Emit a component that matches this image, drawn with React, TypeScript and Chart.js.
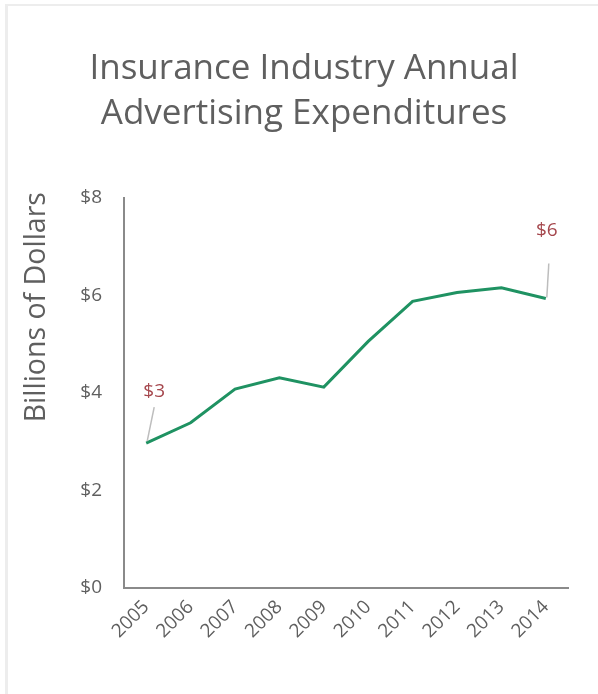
import React, { useEffect, useRef } from "react";
import { Chart, registerables } from "chart.js";

Chart.register(...registerables);

const years = ["2005", "2006", "2007", "2008", "2009", "2010", "2011", "2012", "2013", "2014"];
const spending = [2.97, 3.39, 4.08, 4.31, 4.12, 5.06, 5.88, 6.06, 6.16, 5.94];
const yTicks = [0, 2, 4, 6, 8];
const calloutIndex = [0, 9];
const calloutText = ["$3", "$6"];
const titleLines = ["Insurance Industry Annual", "Advertising Expenditures"];
const yAxisTitle = "Billions of Dollars";

const FONT = "'Open Sans', sans-serif";
const GREY = "#5f5f5f";

const calloutPlugin = {
  id: "callouts",
  afterDatasetsDraw(chart: any) {
    const meta = chart.getDatasetMeta(0);
    const ctx = chart.ctx;
    const geo = [
      { l1: [1, -2], l2: [8, -36], t: [8, -52] },
      { l1: [1, -1], l2: [3, -35], t: [1, -68] },
    ];
    calloutIndex.forEach((idx, k) => {
      const pt = meta.data[idx];
      if (!pt) return;
      const g = geo[k];
      ctx.save();
      ctx.strokeStyle = "#bdbdbd";
      ctx.lineWidth = 1.5;
      ctx.beginPath();
      ctx.moveTo(pt.x + g.l1[0], pt.y + g.l1[1]);
      ctx.lineTo(pt.x + g.l2[0], pt.y + g.l2[1]);
      ctx.stroke();
      ctx.fillStyle = "#a5474d";
      ctx.font = `19px ${FONT}`;
      ctx.textAlign = "center";
      ctx.textBaseline = "middle";
      ctx.fillText(calloutText[k], pt.x + g.t[0], pt.y + g.t[1]);
      ctx.restore();
    });
  },
};

const yTitlePlugin = {
  id: "yTitle",
  afterDraw(chart: any) {
    const ctx = chart.ctx;
    const area = chart.chartArea;
    ctx.save();
    ctx.translate(37, area.top + (area.bottom - area.top) * 0.28);
    ctx.rotate(-Math.PI / 2);
    ctx.fillStyle = GREY;
    ctx.font = `28.5px ${FONT}`;
    ctx.textAlign = "center";
    ctx.textBaseline = "middle";
    ctx.fillText(yAxisTitle, 0, 0);
    ctx.restore();
  },
};

export default function App() {
  const ref = useRef<HTMLCanvasElement>(null);
  useEffect(() => {
    document.body.style.margin = "0";
    const chart = new Chart(ref.current!, {
      type: "line",
      data: {
        labels: years,
        datasets: [
          {
            data: spending,
            borderColor: "#1f9262",
            borderWidth: 3,
            pointRadius: 0,
            tension: 0,
            fill: false,
          },
        ],
      },
      plugins: [calloutPlugin, yTitlePlugin],
      options: {
        animation: false,
        responsive: false,
        layout: { padding: { top: 47, left: 40, right: 30, bottom: 0 } },
        plugins: {
          legend: { display: false },
          tooltip: { enabled: false },
          title: {
            display: true,
            text: titleLines,
            color: GREY,
            font: { family: FONT, size: 35, weight: "normal", lineHeight: 1.286 },
            padding: { top: 0, bottom: 61 },
          },
        },
        scales: {
          x: {
            offset: true,
            grid: { display: false, drawTicks: false },
            border: { display: true, color: "#8a8a8a", width: 2 },
            ticks: {
              color: GREY,
              font: { family: FONT, size: 19 },
              maxRotation: 45,
              minRotation: 45,
              padding: 8,
            },
            afterFit(scale: any) {
              scale.height = 106;
            },
          },
          y: {
            min: 0,
            max: 8,
            afterBuildTicks(scale: any) {
              scale.ticks = yTicks.map((v) => ({ value: v }));
            },
            grid: { display: false, drawTicks: false },
            border: { display: true, color: "#8a8a8a", width: 2 },
            ticks: {
              color: GREY,
              font: { family: FONT, size: 19 },
              padding: 22,
              callback: (v: any) => `$${v}`,
            },
            afterFit(scale: any) {
              scale.width = 84;
            },
          },
        },
      },
    });
    return () => chart.destroy();
  }, []);
  return (
    <div style={{ position: "relative", width: 598, height: 694, background: "#fff" }}>
      <div style={{ position: "absolute", left: 5, top: 4, width: 3, height: 690, background: "#ededed" }} />
      <div style={{ position: "absolute", left: 5, top: 4, width: 593, height: 2, background: "#ededed" }} />
      <canvas ref={ref} width={598} height={694} style={{ position: "absolute", left: 0, top: 0 }} />
    </div>
  );
}
